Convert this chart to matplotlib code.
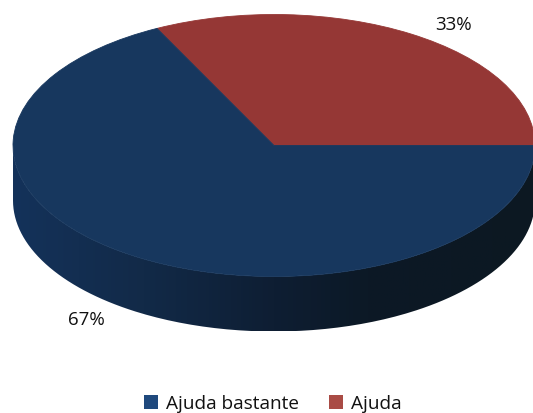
import numpy as np
import matplotlib
matplotlib.use('Agg')
import matplotlib.pyplot as plt
from matplotlib.colors import LinearSegmentedColormap
from matplotlib.patches import Patch, PathPatch
from matplotlib.path import Path

# dados
labels = ['Ajuda bastante', 'Ajuda']
values = [67.6, 32.4]   # fatias como
pct_labels = ['67%', '33%']
top_colors = ['#17375e', '#953735']
legend_colors = ['#1f497d', '#a94b45']

plt.rcParams['font.family'] = ['Open Sans', 'DejaVu Sans']

W, H = 533, 414
cx, cy = 274, 146.5   # centro da elipse em pixels
rx, ry = 261, 131
depth = 55 / ry


def px(x, y):
    return (x - cx) / rx, (cy - y) / ry


fig = plt.figure(figsize=(W / 100, H / 100), dpi=100)
ax = fig.add_axes([0, 0, 1, 1])

# lateral com gradiente
t = np.linspace(np.pi, 2 * np.pi, 200)
xs = np.concatenate([np.cos(t), np.cos(t[::-1])])
ys = np.concatenate([np.sin(t) - depth, np.sin(t[::-1])])
side = Path(np.column_stack([xs, ys]))
cmap = LinearSegmentedColormap.from_list('lado', [
    (0.0, '#14325a'), (0.25, '#122a48'), (0.5, '#0e1e33'),
    (0.68, '#0c1926'), (1.0, '#0c1822')])
grad = np.linspace(0, 1, 256).reshape(1, -1)
im = ax.imshow(grad, cmap=cmap, extent=(-1, 1, -1 - depth, 0), aspect='auto', zorder=1)
clip = PathPatch(side, transform=ax.transData, fc='none', ec='none')
ax.add_patch(clip)
im.set_clip_path(clip)

# topo: vermelho começa em 0 graus, sentido anti-horário
wedges, _ = ax.pie(values[::-1], colors=top_colors[::-1], startangle=0, radius=1,
                   wedgeprops={'zorder': 2}, frame=True)
# contorno na cor da fatia para esconder a emenda clara
for w in wedges:
    w.set_edgecolor(w.get_facecolor())
    w.set_linewidth(0.6)
ax.set_aspect('auto')
ax.set_xlim(*(np.array([0, W]) - cx) / rx)
ax.set_ylim((cy - H) / ry, cy / ry)
ax.axis('off')

ax.text(*px(86, 320), pct_labels[0], fontsize=13.5, ha='center', va='center', color='#111111')
ax.text(*px(453, 25), pct_labels[1], fontsize=13.5, ha='center', va='center', color='#111111')

handles = [Patch(fc=c, ec='none') for c in legend_colors]
ax.legend(handles, labels, ncol=2, frameon=False, fontsize=13.7, loc='center',
          bbox_to_anchor=(273 / W, 1 - 404.5 / H), handlelength=0.74, handleheight=0.74,
          handletextpad=0.42, columnspacing=1.58, labelcolor='#111111',
          borderpad=0, borderaxespad=0)

fig.savefig('out.png', dpi=100)
